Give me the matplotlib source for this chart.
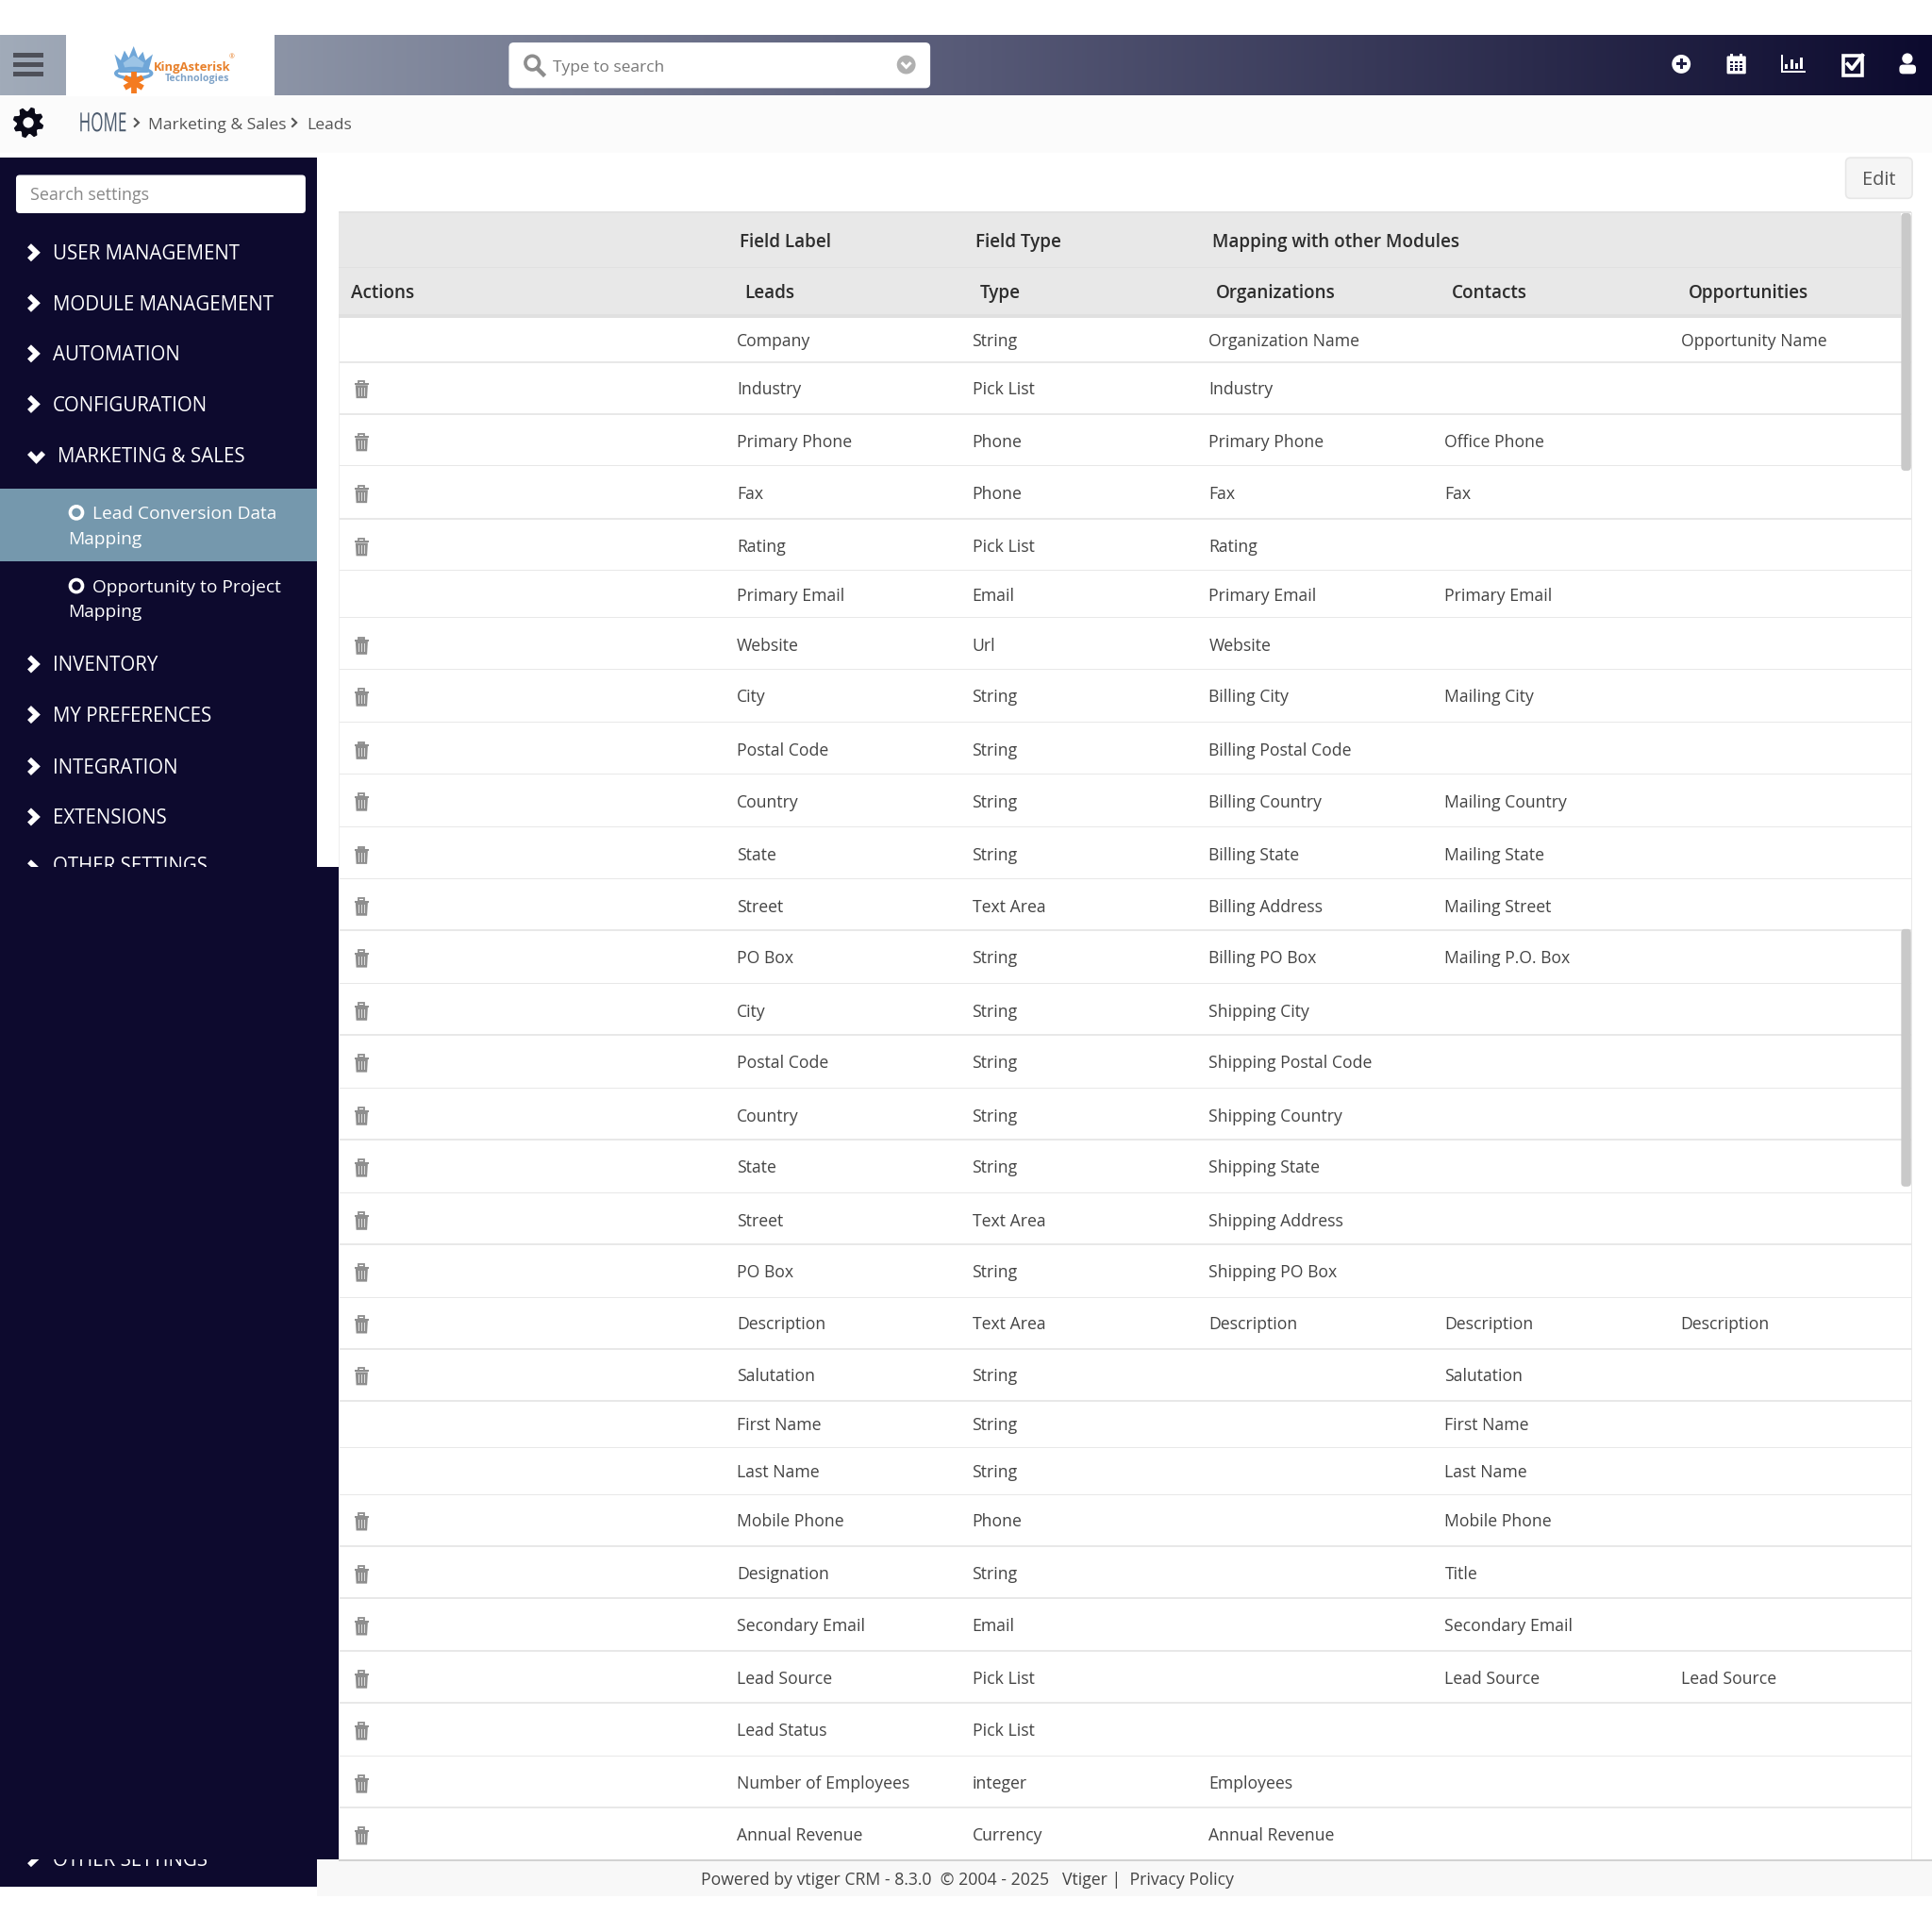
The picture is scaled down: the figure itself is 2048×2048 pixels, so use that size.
import numpy as np
import matplotlib
matplotlib.use("Agg")
import matplotlib.pyplot as plt
from matplotlib.patches import Rectangle, FancyBboxPatch, Circle, Polygon, Ellipse
from matplotlib.patheffects import AbstractPathEffect
from matplotlib.transforms import Affine2D

FONT = "Open Sans"
plt.rcParams["font.family"] = [FONT, "DejaVu Sans"]

# ---------- table content ----------
field_labels = ["Company", "Industry", "Primary Phone", "Fax", "Rating", "Primary Email", "Website", "City",
                "Postal Code", "Country", "State", "Street", "PO Box", "City", "Postal Code", "Country", "State",
                "Street", "PO Box", "Description", "Salutation", "First Name", "Last Name", "Mobile Phone",
                "Designation", "Secondary Email", "Lead Source", "Lead Status", "Number of Employees", "Annual Revenue"]
field_types = ["String", "Pick List", "Phone", "Phone", "Pick List", "Email", "Url", "String", "String", "String",
               "String", "Text Area", "String", "String", "String", "String", "String", "Text Area", "String",
               "Text Area", "String", "String", "String", "Phone", "String", "Email", "Pick List", "Pick List",
               "integer", "Currency"]
organizations = ["Organization Name", "Industry", "Primary Phone", "Fax", "Rating", "Primary Email", "Website",
                 "Billing City", "Billing Postal Code", "Billing Country", "Billing State", "Billing Address",
                 "Billing PO Box", "Shipping City", "Shipping Postal Code", "Shipping Country", "Shipping State",
                 "Shipping Address", "Shipping PO Box", "Description", "", "", "", "", "", "", "", "", "Employees",
                 "Annual Revenue"]
contacts = ["", "", "Office Phone", "Fax", "", "Primary Email", "", "Mailing City", "", "Mailing Country",
            "Mailing State", "Mailing Street", "Mailing P.O. Box", "", "", "", "", "", "", "Description", "Salutation",
            "First Name", "Last Name", "Mobile Phone", "Title", "Secondary Email", "Lead Source", "", "", ""]
opportunities = ["Opportunity Name"] + [""] * 18 + ["Description"] + [""] * 6 + ["Lead Source"] + [""] * 3
has_delete = [0, 1, 1, 1, 1, 0, 1, 1, 1, 1, 1, 1, 1, 1, 1, 1, 1, 1, 1, 1, 1, 0, 0, 1, 1, 1, 1, 1, 1, 1]
row_centers = [276, 315, 358, 400, 443, 483, 523, 565, 608, 650, 693, 735, 777, 820, 862, 905, 947, 990, 1032, 1074,
               1116, 1156, 1194, 1234, 1277, 1319, 1362, 1404, 1447, 1489]
row_lines = [294, 336, 378, 421, 463, 501, 543, 586, 628, 671, 713, 755, 798, 840, 883, 925, 968, 1010, 1053, 1095,
             1137, 1175, 1213, 1255, 1297, 1340, 1382, 1425, 1467]

menu_top = ["USER MANAGEMENT", "MODULE MANAGEMENT", "AUTOMATION", "CONFIGURATION"]
menu_top_y = [205, 246, 287, 328]
menu_low = ["INVENTORY", "MY PREFERENCES", "INTEGRATION", "EXTENSIONS"]
menu_low_y = [539, 580, 622, 663]

NAVY = "#0d0a2e"
CELL = 12.7
MENU = 14.8
fig = plt.figure(figsize=(20.48, 20.48), dpi=100, facecolor="white")
ax = fig.add_axes([0, 0, 1, 1])
ax.set_xlim(0, 1568)
ax.set_ylim(1568, 0)
ax.axis("off")


class SqueezeX(AbstractPathEffect):
    """Condense a real text artist horizontally about a given pixel x."""

    def __init__(self, px, factor):
        super().__init__()
        self.px, self.factor = px, factor

    def draw_path(self, renderer, gc, tpath, affine, rgbFace=None):
        t = affine + Affine2D().translate(-self.px, 0).scale(self.factor, 1).translate(self.px, 0)
        renderer.draw_path(gc, tpath, t, rgbFace)


def rect(x0, y0, x1, y1, c, z=1):
    ax.add_patch(Rectangle((x0, y0), x1 - x0, y1 - y0, fc=c, ec="none", zorder=z))


def rbox(x0, y0, x1, y1, c, r=4, ec="none", lw=0, z=3):
    ax.add_patch(FancyBboxPatch((x0 + r, y0 + r), x1 - x0 - 2 * r, y1 - y0 - 2 * r,
                                boxstyle=f"round,pad={r},rounding_size={r}", fc=c, ec=ec, lw=lw, zorder=z))


def txt(x, y, s, size=CELL, c="#444444", weight="normal", ha="left", z=5, **kw):
    return ax.text(x, y, s, fontsize=size, color=c, fontweight=weight, ha=ha, va="baseline", zorder=z, **kw)


def chevron(x, y, c="white", down=False, s=4.6, lw=4.0, z=5):
    if down:
        ax.plot([x - s * 1.25, x, x + s * 1.25], [y - s * .6, y + s * .7, y - s * .6], color=c, lw=lw,
                solid_capstyle="butt", solid_joinstyle="miter", zorder=z)
    else:
        ax.plot([x - s * .6, x + s * .7, x - s * .6], [y - s * 1.25, y, y + s * 1.25], color=c, lw=lw,
                solid_capstyle="butt", solid_joinstyle="miter", zorder=z)


def trash(cx, cy, c="#8e8e8e"):
    rect(cx - 5.8, cy - 5.2, cx + 5.8, cy - 3.6, c, 4)
    ax.add_patch(Rectangle((cx - 2.4, cy - 7), 4.8, 2.2, fc="none", ec=c, lw=1.3, zorder=4))
    ax.add_patch(Polygon([(cx - 5, cy - 3.6), (cx + 5, cy - 3.6), (cx + 4.4, cy + 7), (cx - 4.4, cy + 7)],
                         fc=c, ec="none", zorder=4))
    for d in (-2.4, 0, 2.4):
        rect(cx + d - .5, cy - 1.8, cx + d + .5, cy + 5.2, "#dcdcdc", 5)


def gear(cx, cy, R, r, c="#0a0a18", hole="#fbfbfb", teeth=8):
    a = np.linspace(0, 2 * np.pi, teeth * 4, endpoint=False) + np.pi / teeth * .5
    rad = np.tile([R, R, r, r], teeth)
    ax.add_patch(Polygon(np.c_[cx + rad * np.cos(a), cy + rad * np.sin(a)], fc=c, ec=c, lw=1, joinstyle="round", zorder=5))
    ax.add_patch(Circle((cx, cy), R * .36, fc=hole, ec="none", zorder=6))


# ---------- top bar ----------
stops = np.array([[0xa1, 0xab, 0xb9], [0x57, 0x5a, 0x77], [0x0c, 0x0a, 0x2e]]) / 255
g = np.linspace(0, 1, 800)
grad = np.stack([np.interp(g, [0, .5, 1], stops[:, i]) for i in range(3)], axis=-1)[None, :, :]
ax.imshow(grad, extent=(0, 1568, 77.3, 29), aspect="auto", zorder=1, interpolation="bilinear")
ax.set_xlim(0, 1568)
ax.set_ylim(1568, 0)
rect(53.5, 28, 223, 78, "white", 2)
for yy in (44.8, 52.5, 60.2):
    rect(10.5, yy - 2, 35, yy + 2, "#4e5059", 3)

# logo
crown = [(93, 44), (98, 49), (101, 41), (104.5, 47), (108.5, 37.5), (112, 47), (116, 42), (118, 49), (124, 44), (120, 59), (97, 59)]
ax.add_patch(Polygon(crown, fc="#6fa6d8", ec="none", zorder=3))
ax.add_patch(Polygon([(100, 51), (108.5, 45), (117, 51), (115, 57), (102, 57)], fc="#9cc4e6", ec="none", zorder=3))
ax.add_patch(Ellipse((108.5, 59.5), 29, 8, fc="none", ec="#6fa6d8", lw=2.5, zorder=3))
for ang in (0, 60, 120):
    t = np.deg2rad(ang + 90)
    ax.plot([108.5 - 8.5 * np.cos(t), 108.5 + 8.5 * np.cos(t)], [67 - 8.5 * np.sin(t), 67 + 8.5 * np.sin(t)],
            color="#f47b20", lw=4.2, zorder=4, solid_capstyle="butt")
txt(125, 57.5, "KingAsterisk", size=9.4, c="#e8802a", weight="bold")
txt(185.5, 48, "®", size=5, c="#e8802a")
txt(133.5, 65.8, "Technologies", size=7.6, c="#7fa3c8", weight="bold")

# search field
rbox(413, 34.5, 755, 71.5, "white", r=4)
ax.add_patch(Circle((432, 51), 5.6, fc="none", ec="#8d8d8d", lw=2.6, zorder=5))
ax.plot([436, 441], [55.5, 60.5], color="#8d8d8d", lw=3.2, zorder=5)
txt(449, 58, "Type to search", size=12.5, c="#777777")
ax.add_patch(Circle((735.5, 52.5), 7.6, fc="#b0b0b0", ec="none", zorder=5))
chevron(735.5, 52.5, down=True, s=3, lw=2.2, z=6)

# right hand icons
ax.add_patch(Circle((1364.5, 52), 7.6, fc="white", ec="none", zorder=5))
rect(1360.3, 50.8, 1368.7, 53.2, "#1f1d44", 6)
rect(1363.3, 47.8, 1365.7, 56.2, "#1f1d44", 6)
rbox(1401.5, 45.5, 1417, 60, "white", r=1, z=5)
for xx in (1405.5, 1413):
    rect(xx - 1, 43.5, xx + 1, 47.5, "white", 6)
for xx in (1405.5, 1409.2, 1412.9):
    for yy in (50.5, 53.5, 56.5):
        rect(xx - 1.1, yy - 1, xx + 1.1, yy + 1, "#1a183e", 6)
rect(1445.5, 44.5, 1447, 59, "white", 5)
rect(1445.5, 57.5, 1465.5, 59, "white", 5)
for xx, top in zip((1450, 1454, 1458, 1462), (52, 48.5, 51, 46.5)):
    rect(xx - 1.2, top, xx + 1.2, 56, "white", 5)
ax.add_patch(Rectangle((1495.8, 45.5), 15.5, 15.5, fc="none", ec="white", lw=2.6, zorder=5))
ax.plot([1499.5, 1503, 1511.5], [52, 56, 45], color="white", lw=2.8, zorder=6)
ax.add_patch(Circle((1548, 47.5), 4.3, fc="white", ec="none", zorder=5))
rbox(1541.5, 52.5, 1555, 60, "white", r=3, z=5)

# ---------- breadcrumb band ----------
rect(0, 77.3, 1568, 124, "#fbfbfb", 1)
gear(23, 99.5, 12, 8.8)
home_px = ax.transData.transform((64, 0))[0]
home = txt(64, 106.6, "HOME", size=20, c="#4b5a6d")
home.set_path_effects([SqueezeX(home_px, 0.616)])
chevron(110.5, 99.5, c="#555555", s=2.9, lw=1.5)
txt(120, 104.6, "Marketing & Sales", size=12.6, c="#555555")
chevron(238.5, 99.5, c="#555555", s=2.9, lw=1.5)
txt(249, 104.6, "Leads", size=12.6, c="#555555")

# ---------- sidebar ----------
rect(0, 128, 257.3, 1531.5, NAVY, 1)
rbox(13, 142, 248, 173, "white", r=3)
txt(24.5, 162.5, "Search settings", size=12.9, c="#888888")
for name, y in list(zip(menu_top, menu_top_y)) + list(zip(menu_low, menu_low_y)):
    chevron(26.5, y)
    txt(42.7, y + 5.6, name, size=MENU, c="white")
chevron(29.5, 370.3, down=True)
txt(47, 375.2, "MARKETING & SALES", size=MENU, c="white")
rect(0, 396.8, 257.3, 455.6, "#7598ad", 2)
for y, col in ((416, "#7598ad"), (475.5, NAVY)):
    ax.add_patch(Circle((62, y), 5, fc=col, ec="white", lw=2.6, zorder=5))
txt(75, 421.3, "Lead Conversion Data", size=13.8, c="white")
txt(55, 442, "Mapping", size=13.8, c="white")
txt(75, 480.7, "Opportunity to Project", size=13.8, c="white")
txt(55, 501, "Mapping", size=13.8, c="white")

# clipped "OTHER SETTINGS" at top and bottom of the wide panel
chevron(26.5, 705)
txt(42.7, 707.7, "OTHER SETTINGS", size=MENU, c="white")
chevron(26.5, 1508)
txt(42.7, 1514.5, "OTHER SETTINGS", size=MENU, c="white")
rect(0, 703.6, 274.6, 1509, NAVY, 7)

# ---------- table ----------
rbox(1498, 128, 1552, 161, "#f5f5f5", r=4, ec="#e7e7e7", lw=1.2)
txt(1525, 150, "Edit", size=14.4, c="#555555", ha="center")
rect(274.6, 172, 1543, 256, "#e8e8e8", 2)
rect(274.6, 171.5, 1551.5, 172.8, "#e2e2e2", 3)
rect(274.6, 216.5, 1543, 217.8, "#e1e1e1", 3)
rect(274.6, 255.3, 1543, 257.7, "#e0e0e0", 3)
rect(1551, 172, 1552, 1509, "#e8e8e8", 2)
for y in row_lines:
    rect(275, y - .55, 1551, y + .55, "#e8e8e8", 2)
rect(274.6, 258, 275.4, 1509, "#eeeeee", 2)
for y0, y1 in ((173, 382), (754, 963)):
    rbox(1543, y0, 1551, y1, "#c9c9c9", r=3, z=4)

H = "#2d2d2d"
for x, s in ((600.5, "Field Label"), (792, "Field Type"), (983.5, "Mapping with other Modules")):
    txt(x, 200.5, s, size=13.6, c=H, weight="semibold")
for x, s in ((284.5, "Actions"), (604, "Leads"), (795, "Type"), (987, "Organizations"), (1178.5, "Contacts"), (1370, "Opportunities")):
    txt(x, 242, s, size=13.6, c=H, weight="semibold")

for i, yc in enumerate(row_centers):
    base = yc + 5
    for x, col in ((598, field_labels), (789, field_types), (981, organizations), (1172.5, contacts), (1364, opportunities)):
        if col[i]:
            txt(x, base, col[i], size=CELL, c="#444444")
    if has_delete[i]:
        trash(293.5, yc + 1.2)

# ---------- footer ----------
rect(257.3, 1509, 1568, 1539, "#f8f8f8", 2)
rect(274.6, 1508.8, 1568, 1510.4, "#d2d2d2", 3)
txt(569, 1530, "Powered by vtiger CRM - 8.3.0  © 2004 - 2025   Vtiger |  Privacy Policy", size=12.7, c="#444444")

fig.savefig("out.png", dpi=100, facecolor="white")
